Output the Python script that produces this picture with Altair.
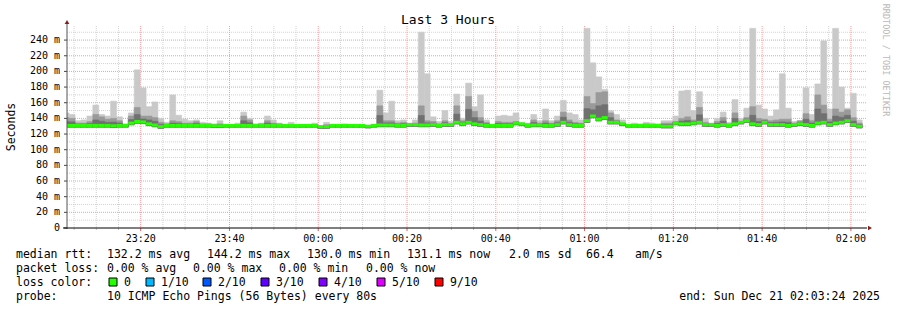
import altair as alt
import pandas as pd

# ---------------- data ----------------
# median rtt per 80 s step (ms), from 23:03 to 02:03
MED = [131, 131, 131, 131, 131, 131, 131, 131, 130.5, 131,
       131, 134, 136, 135.5, 133, 131.5, 129.5, 131, 131, 131,
       131, 131, 131, 131, 131, 130.5, 130.5, 131, 131, 131,
       131, 131, 131, 131, 131, 131, 131, 131, 131, 131,
       131, 131, 131, 129.5, 129.5, 131, 131, 131, 131, 131,
       131, 130, 131, 131.5, 131.5, 131.5, 131, 131, 132, 132,
       131.5, 131.5, 132, 131, 132, 132, 135, 133, 135, 133,
       132, 131, 131, 131, 131, 131, 134, 133, 131, 131.5,
       131.5, 131, 131, 132, 135, 132, 131, 131, 137, 143,
       139, 141, 135, 135, 133, 131, 131, 131, 131, 131,
       131, 130, 130, 134, 133, 133, 134, 135, 132, 132,
       131, 132, 131, 133, 135, 137, 133, 132, 135, 132,
       132, 132, 131, 132, 133, 132, 131, 134, 135, 132,
       134, 135, 137, 132, 130]
# highest ping per step (top of the light smoke)
MAX = [147, 145, 137, 138, 143, 157, 145, 143, 162, 142,
       133, 147, 202, 179, 155, 161, 140, 135, 170, 144,
       139, 137, 138, 135, 134, 133, 137, 132, 132, 134,
       148, 140, 133, 134, 143, 138, 134, 132, 135, 132,
       132, 132, 134, 130, 135, 132, 132, 133, 132, 132,
       132, 131, 132, 176, 147, 162, 137, 138, 134, 138,
       250, 197, 142, 136, 150, 136, 171, 140, 185, 155,
       170, 138, 132, 143, 144, 143, 147, 135, 134, 145,
       137, 152, 137, 143, 163, 147, 145, 138, 255, 211,
       193, 177, 150, 145, 138, 132, 134, 133, 135, 134,
       133, 137, 137, 143, 175, 176, 150, 174, 140, 134,
       140, 148, 135, 164, 140, 153, 255, 157, 152, 143,
       151, 197, 153, 136, 137, 179, 145, 184, 239, 152,
       255, 180, 153, 172, 138]
# upper edge of the medium smoke
MID = [141, 140, 134, 134, 136, 145, 142, 139, 140, 137,
       132, 143, 154, 143, 143, 141, 135, 133, 137, 136,
       134, 134, 136, 133, 133, 132, 133, 132, 132, 132,
       143, 138, 132, 133, 137, 134, 133, 132, 132, 132,
       132, 132, 132, 130, 132, 132, 132, 132, 132, 132,
       132, 131, 132, 156, 137, 137, 134, 135, 133, 134,
       156, 137, 136, 133, 137, 133, 156, 137, 168, 149,
       141, 135, 132, 136, 135, 135, 136, 133, 133, 138,
       134, 137, 134, 137, 148, 138, 135, 134, 168, 159,
       173, 174, 147, 138, 134, 132, 132, 132, 133, 132,
       132, 134, 134, 136, 140, 142, 138, 154, 135, 133,
       136, 141, 133, 147, 136, 141, 155, 140, 139, 137,
       138, 139, 139, 134, 137, 146, 137, 170, 157, 139,
       152, 148, 151, 141, 134]

START_MIN = 2.55          # first step start, minutes after 23:00
STEP_MIN = 80 / 60        # 80 s probe interval
X_DOMAIN = [3.4, 183.4]   # 23:03:24 .. 02:03:24
Y_DOMAIN = [0, 258]

X_TICKS = [20, 40, 60, 80, 100, 120, 140, 160, 180]
X_LABELS = ["23:20", "23:40", "00:00", "00:20", "00:40", "01:00", "01:20", "01:40", "02:00"]
X_MINOR = [m for m in range(5, 184, 5) if m % 20 != 0]
Y_TICKS = [0, 20, 40, 60, 80, 100, 120, 140, 160, 180, 200, 220, 240]
Y_LABELS = ["0", "20 m", "40 m", "60 m", "80 m", "100 m", "120 m", "140 m", "160 m",
            "180 m", "200 m", "220 m", "240 m"]
Y_MINOR = [10, 30, 50, 70, 90, 110, 130, 150, 170, 190, 210, 230, 250]

LOSS_LABELS = ["0", "1/10", "2/10", "3/10", "4/10", "5/10", "9/10"]
LOSS_COLORS = ["#26ff00", "#00b8ff", "#0059ff", "#5e00ff", "#7e00ff", "#dd00ff", "#ff0000"]

rows = []
for i, (m, hi, md) in enumerate(zip(MED, MAX, MID)):
    t = START_MIN + i * STEP_MIN
    rows.append(dict(t=t, t2=t + STEP_MIN, med=m, hi=hi, mid=md,
                     lo=m - 2.2, dark=m + (md - m) * 0.5))
df = pd.DataFrame(rows)

W, H = 799, 202
PL, PT = 67, 26
MONO = "DejaVu Sans Mono"

xs = alt.Scale(domain=X_DOMAIN, nice=False, zero=False)
ys = alt.Scale(domain=Y_DOMAIN, nice=False, zero=False)

base = alt.Chart(df)

def band(top, color):
    return base.mark_rect(clip=True, color=color, stroke=color, strokeWidth=0.6).encode(
        x=alt.X("t:Q", scale=xs, axis=None),
        x2="t2:Q",
        y=alt.Y("lo:Q", scale=ys, axis=None),
        y2=f"{top}:Q",
    )

def rules_v(vals, color, dash):
    d = pd.DataFrame({"v": vals})
    return alt.Chart(d).mark_rule(color=color, strokeDash=dash, strokeWidth=1).encode(
        x=alt.X("v:Q", scale=xs, axis=None), y=alt.value(0), y2=alt.value(H))

def rules_h(vals, color, dash):
    d = pd.DataFrame({"v": vals})
    return alt.Chart(d).mark_rule(color=color, strokeDash=dash, strokeWidth=1).encode(
        y=alt.Y("v:Q", scale=ys, axis=None), x=alt.value(0), x2=alt.value(W))

grid = [
    rules_v(X_MINOR, "#d2d2d2", [1, 1]),
    rules_h(Y_MINOR, "#d2d2d2", [1, 1]),
    rules_v(X_TICKS, "#f2a0a0", [1, 1]),
    rules_h(Y_TICKS[1:], "#f2a0a0", [1, 1]),
]

smoke = [band("hi", "#c9c9c9"), band("mid", "#9a9a9a"), band("dark", "#707070")]

median = base.mark_rule(color="#26ff00", strokeWidth=3, clip=True).encode(
    x=alt.X("t:Q", scale=xs, axis=None), x2="t2:Q", y=alt.Y("med:Q", scale=ys, axis=None))

# axis labels as text marks placed by the scales
xlab = alt.Chart(pd.DataFrame({"v": X_TICKS, "l": X_LABELS})).mark_text(
    font=MONO, fontSize=10, align="center", baseline="alphabetic", color="#000").encode(
    x=alt.X("v:Q", scale=xs, axis=None), y=alt.value(H + 14), text="l:N")
ylab = alt.Chart(pd.DataFrame({"v": Y_TICKS, "l": Y_LABELS})).mark_text(
    font=MONO, fontSize=10, align="right", baseline="middle", color="#000", dx=-7).encode(
    y=alt.Y("v:Q", scale=ys, axis=None), x=alt.value(0), text="l:N")

tick_major_x = alt.Chart(pd.DataFrame({"v": X_TICKS})).mark_rule(color="#e06060").encode(
    x=alt.X("v:Q", scale=xs, axis=None), y=alt.value(H), y2=alt.value(H + 3))
tick_minor_x = alt.Chart(pd.DataFrame({"v": X_MINOR})).mark_rule(color="#c0c0c0").encode(
    x=alt.X("v:Q", scale=xs, axis=None), y=alt.value(H), y2=alt.value(H + 2))
tick_y = alt.Chart(pd.DataFrame({"v": Y_TICKS})).mark_rule(color="#444").encode(
    y=alt.Y("v:Q", scale=ys, axis=None), x=alt.value(-3), x2=alt.value(0))

one = pd.DataFrame({"a": [0]})
yaxis_line = alt.Chart(one).mark_rule(color="#555", strokeWidth=1).encode(
    x=alt.value(0), y=alt.value(-3), y2=alt.value(H + 1))
xaxis_line = alt.Chart(one).mark_rule(color="#000", strokeWidth=1).encode(
    y=alt.value(H), x=alt.value(-4), x2=alt.value(W + 1))
arrow_y = alt.Chart(one).mark_point(shape="triangle-up", filled=True, color="#8b1a1a",
                                    size=22, opacity=1).encode(x=alt.value(0), y=alt.value(-4))
arrow_x = alt.Chart(one).mark_point(shape="triangle-right", filled=True, color="#8b1a1a",
                                    size=22, opacity=1).encode(x=alt.value(W + 4), y=alt.value(H))

NB = "\u00a0"

def txt(s, X, Y, size=11.5, align="left", color="#000", angle=0, baseline="alphabetic"):
    kw = dict(font=MONO, fontSize=size, align=align, color=color, baseline=baseline)
    if angle:
        kw["angle"] = angle
    return alt.Chart(one).mark_text(text=s.replace(" ", NB), **kw).encode(
        x=alt.value(X - PL), y=alt.value(Y - PT))

texts = [
    txt("Last 3 Hours", 448, 24, size=13, align="center"),
    txt("Seconds", 15, 127, size=11.5, align="center", angle=270),
    txt("RRDTOOL / TOBI OETIKER", 883, 60, size=8.5, align="center", color="#b8b8b8", angle=90),
]

L1, L2, L3, L4 = 258.3, 272, 285.8, 299.5
texts += [
    txt("median rtt:", 16, L1),
    txt("132.2 ms avg", 107, L1),
    txt("144.2 ms max", 207, L1),
    txt("130.0 ms min", 307, L1),
    txt("131.1 ms now", 407, L1),
    txt("2.0 ms sd", 509, L1),
    txt("66.4", 586, L1),
    txt("am/s", 635, L1),
    txt("packet loss:", 16, L2),
    txt("0.00 % avg", 107, L2),
    txt("0.00 % max", 193, L2),
    txt("0.00 % min", 279, L2),
    txt("0.00 % now", 366, L2),
    txt("loss color:", 16, L3),
    txt("probe:", 16, L4),
    txt("10 ICMP Echo Pings (56 Bytes) every 80s", 107, L4),
    txt("end: Sun Dec 21 02:03:24 2025", 880, L4, align="right"),
]

SQ_X = [113, 150, 207, 265, 323, 381, 439]
for sx, lab, col in zip(SQ_X, LOSS_LABELS, LOSS_COLORS):
    texts.append(alt.Chart(one).mark_point(shape="square", filled=True, fill=col, stroke="#000",
                                           strokeWidth=1, size=64, opacity=1).encode(
        x=alt.value(sx - PL), y=alt.value(282 - PT)))
    texts.append(txt(lab, sx + 11, L3))

chart = alt.layer(
    *grid, *smoke, median, xlab, ylab, tick_major_x, tick_minor_x, tick_y,
    yaxis_line, xaxis_line, arrow_y, arrow_x, *texts
).properties(
    width=W, height=H,
    padding={"left": PL, "top": PT, "right": 897 - PL - W, "bottom": 310 - PT - H},
    autosize=alt.AutoSizeParams(type="none"),
    background="white",
).configure_view(stroke=None)

chart.save("out.html", embed_options={"renderer": "svg", "actions": False})
